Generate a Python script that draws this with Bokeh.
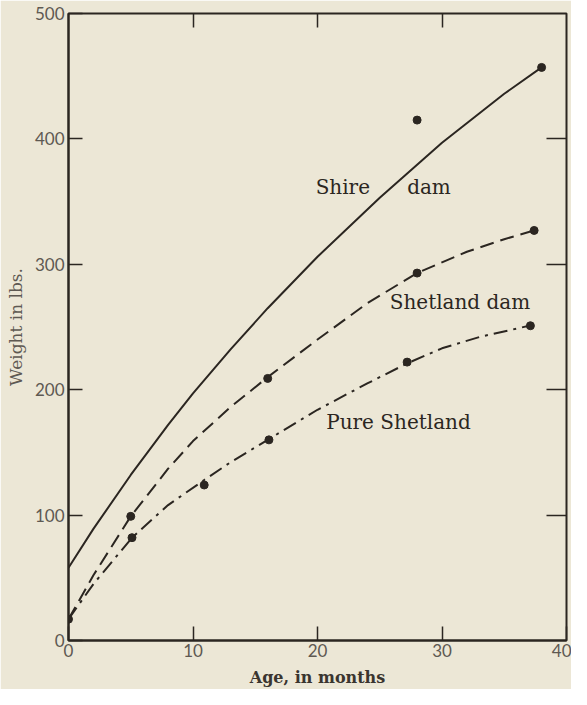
from bokeh.plotting import figure
from bokeh.models import Label, LinearAxis, FixedTicker, Range1d
from bokeh.embed import file_html
from bokeh.resources import INLINE

# ---- data ----
x_ticks = [0, 10, 20, 30, 40]
y_ticks = [0, 100, 200, 300, 400, 500]
top_ticks = [10, 20, 30]
right_ticks = [100, 200, 300, 400]

# Smooth curves
shire_curve_x = [0, 2, 5, 8, 10, 13, 16, 20, 25, 30, 35, 38]
shire_curve_y = [58, 89, 132, 172, 197, 232, 265, 306, 353, 397, 436, 457]
shetdam_curve_x = [0, 2, 5, 8, 10, 13, 16, 20, 24, 28, 32, 35, 37.4]
shetdam_curve_y = [17, 52, 99, 137, 159, 186, 210, 240, 269, 293, 310, 320, 327]
pure_curve_x = [0, 2, 5.1, 8, 10.9, 13, 16, 20, 24, 27.2, 30, 33, 37]
pure_curve_y = [17, 45, 82, 108, 128, 142, 160, 184, 205, 221, 233, 242, 251]

# Observed points
shire_pts_x = [28, 38]
shire_pts_y = [415, 457]
shetdam_pts_x = [0, 5, 16, 28, 37.4]
shetdam_pts_y = [17, 99, 209, 293, 327]
pure_pts_x = [5.1, 10.9, 16.1, 27.2, 37.1]
pure_pts_y = [82, 124, 160, 222, 251]

BG = "#ece7d6"
INK = "#2b2621"
GREY = "#5e5952"

p = figure(width=571, height=689, x_range=Range1d(0, 40), y_range=Range1d(0, 500),
           output_backend="svg", toolbar_location=None,
           min_border_left=68, min_border_right=5, min_border_top=13, min_border_bottom=49)
p.background_fill_color = BG
p.border_fill_color = BG
p.outline_line_color = INK
p.outline_line_width = 2
p.grid.visible = False

for ax, ticks in ((p.xaxis[0], x_ticks), (p.yaxis[0], y_ticks)):
    ax.ticker = FixedTicker(ticks=ticks)
    ax.major_tick_in = 14
    ax.major_tick_out = 0
    ax.major_tick_line_color = INK
    ax.major_tick_line_width = 1.5
    ax.minor_tick_line_color = None
    ax.axis_line_color = INK
    ax.axis_line_width = 2
    ax.major_label_text_font = "Lato"
    ax.major_label_text_font_size = "17px"
    ax.major_label_text_color = GREY
p.xaxis.major_label_standoff = 3
p.yaxis.major_label_standoff = 4

p.xaxis.axis_label = "Age, in months"
p.xaxis.axis_label_text_font = "DejaVu Serif"
p.xaxis.axis_label_text_font_style = "bold"
p.xaxis.axis_label_text_font_size = "16px"
p.xaxis.axis_label_text_color = "#3a352f"
p.xaxis.axis_label_standoff = 8

p.yaxis.axis_label = "Weight in lbs."
p.yaxis.axis_label_text_font = "DejaVu Serif"
p.yaxis.axis_label_text_font_style = "normal"
p.yaxis.axis_label_text_font_size = "17px"
p.yaxis.axis_label_text_color = GREY
p.yaxis.axis_label_standoff = 6

top_axis = LinearAxis(ticker=FixedTicker(ticks=top_ticks), major_tick_in=14, major_tick_out=0,
                      major_tick_line_color=INK, major_tick_line_width=1.5,
                      minor_tick_line_color=None, axis_line_color=None,
                      major_label_overrides={t: "" for t in top_ticks}, major_label_standoff=0)
right_axis = LinearAxis(ticker=FixedTicker(ticks=right_ticks), major_tick_in=20, major_tick_out=0,
                        major_tick_line_color=INK, major_tick_line_width=1.5,
                        minor_tick_line_color=None, axis_line_color=None,
                        major_label_overrides={t: "" for t in right_ticks}, major_label_standoff=0)
p.add_layout(top_axis, "above")
p.add_layout(right_axis, "right")

# curves
p.line(shire_curve_x, shire_curve_y, line_width=2, line_color=INK)
p.line(shetdam_curve_x, shetdam_curve_y, line_width=2, line_color=INK, line_dash="14 7")
p.line(pure_curve_x, pure_curve_y, line_width=2, line_color=INK, line_dash="14 6 3 6")

# points
p.scatter(shire_pts_x, shire_pts_y, size=8, color=INK)
p.scatter(shetdam_pts_x, shetdam_pts_y, size=8, color=INK)
p.scatter(pure_pts_x, pure_pts_y, size=8, color=INK)

# curve labels
label_font = "DejaVu Serif"
for txt, lx, ly in (("Shire", 19.85, 362), ("dam", 27.2, 362),
                    ("Shetland dam", 25.8, 270), ("Pure Shetland", 20.7, 174)):
    p.add_layout(Label(x=lx, y=ly, text=txt, text_font=label_font, text_font_size="20px",
                       text_color=INK, text_baseline="middle", text_align="left"))

open("out.html", "w").write(file_html(p, INLINE))
